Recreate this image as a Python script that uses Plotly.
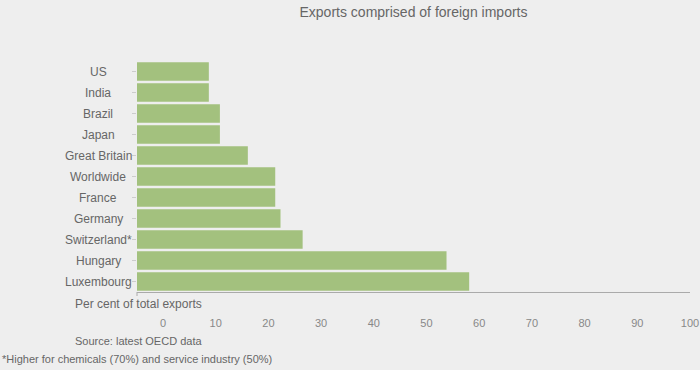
import plotly.graph_objects as go

countries = ["US", "India", "Brazil", "Japan", "Great Britain", "Worldwide",
             "France", "Germany", "Switzerland*", "Hungary", "Luxembourg"]
values = [8.7, 8.7, 10.8, 10.8, 16.1, 21.3, 21.3, 22.3, 26.5, 53.8, 58.1]
tick_vals = [0, 10, 20, 30, 40, 50, 60, 70, 80, 90, 100]
tick_text = [str(t) for t in tick_vals]

title = "Exports comprised of foreign imports"
axis_title = "Per cent of total exports"
source = "Source: latest OECD data"
footnote = "*Higher for chemicals (70%) and service industry (50%)"

AXIS_MIN = -4.93
AXIS_MAX = 100

W, H = 700, 370
ML, MR, MT, MB = 137, 10, 61, 78
PW = W - ML - MR
PH = H - MT - MB

FONT = "Liberation Sans, Arial, sans-serif"
TXT = "#666666"
TICK_TXT = "#888888"
BG = "#eeeeee"
BAR = "#a3c17e"


def px_x(px):
    return (px - ML) / PW


def px_y(py):
    return (H - MB - py) / PH


fig = go.Figure()
fig.add_trace(go.Bar(
    y=countries,
    x=[v - AXIS_MIN for v in values],
    base=AXIS_MIN,
    orientation="h",
    marker=dict(color=BAR, line=dict(width=0)),
    customdata=values,
    hovertemplate="%{y}: %{customdata}%<extra></extra>",
))

annotations = []
for c in countries:
    annotations.append(dict(
        x=px_x(98), xref="paper", y=c, yref="y", text=c, showarrow=False,
        xanchor="center", yanchor="middle",
        font=dict(family=FONT, size=12, color=TXT)))

annotations.append(dict(x=px_x(73), xref="paper", y=px_y(304), yref="paper",
                        text=axis_title, showarrow=False, xanchor="left", yanchor="middle",
                        font=dict(family=FONT, size=12, color=TXT)))
annotations.append(dict(x=px_x(73), xref="paper", y=px_y(341), yref="paper",
                        text=source, showarrow=False, xanchor="left", yanchor="middle",
                        font=dict(family=FONT, size=11, color=TXT)))
annotations.append(dict(x=px_x(0), xref="paper", y=px_y(359), yref="paper",
                        text=footnote, showarrow=False, xanchor="left", yanchor="middle",
                        font=dict(family=FONT, size=11, color=TXT)))

fig.update_layout(
    width=W, height=H,
    margin=dict(l=ML, r=MR, t=MT, b=MB, pad=0, autoexpand=False),
    paper_bgcolor=BG, plot_bgcolor=BG,
    bargap=0.11,
    showlegend=False,
    title=dict(text=title, x=px_x((ML + W - MR) / 2), xref="paper",
               y=1 - 12 / H, yref="container", xanchor="center", yanchor="middle",
               font=dict(family=FONT, size=14, color=TXT)),
    xaxis=dict(range=[AXIS_MIN, AXIS_MAX], tickvals=tick_vals, ticktext=tick_text,
               showgrid=False, zeroline=False, showline=True, linecolor="#aaaaaa",
               linewidth=1, ticks="", ticklabelstandoff=21, automargin=False,
               tickfont=dict(family=FONT, size=11, color=TICK_TXT), fixedrange=True),
    yaxis=dict(autorange="reversed", showticklabels=False, showgrid=False,
               zeroline=False, showline=False, ticks="outside", ticklen=4,
               tickcolor="#cccccc", tickwidth=1, fixedrange=True, automargin=False),
    annotations=annotations,
    shapes=[dict(type="line", xref="x domain", yref="paper", x0=0, x1=0,
                 y0=0, y1=-4 / PH, line=dict(color="#aaaaaa", width=1))],
)

fig.write_html(
    "out.html",
    config={"displayModeBar": False},
    post_script="document.body.style.margin='0px';document.body.style.background='#eeeeee';document.body.style.overflow='hidden';",
)
